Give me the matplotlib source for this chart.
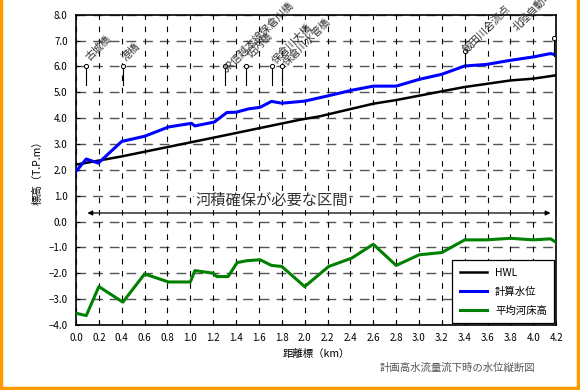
import matplotlib
matplotlib.use("Agg")
import matplotlib.pyplot as plt
from matplotlib.lines import Line2D

plt.rcParams["font.family"] = ["Noto Sans CJK JP", "DejaVu Sans"]

# --- data ---
hwl_x = [0.0, 0.4, 1.23, 1.96, 2.13, 2.6, 2.8, 3.39, 3.8, 4.0, 4.2]
hwl_y = [2.2, 2.52, 3.27, 3.94, 4.07, 4.56, 4.7, 5.2, 5.46, 5.53, 5.66]

wl_x = [0.0, 0.09, 0.195, 0.4, 0.6, 0.81, 1.01, 1.04, 1.21, 1.32, 1.4, 1.51,
        1.61, 1.71, 1.8, 2.0, 2.21, 2.41, 2.6, 2.8, 3.0, 3.2, 3.4, 3.59, 3.8,
        4.0, 4.15, 4.2]
wl_y = [1.94, 2.42, 2.26, 3.1, 3.3, 3.66, 3.8, 3.7, 3.85, 4.22, 4.23, 4.36,
        4.42, 4.65, 4.58, 4.66, 4.87, 5.08, 5.24, 5.24, 5.5, 5.7, 6.02, 6.08,
        6.24, 6.37, 6.5, 6.45]

bed_x = [0.0, 0.09, 0.2, 0.41, 0.6, 0.81, 1.0, 1.04, 1.2, 1.23, 1.33, 1.41,
         1.49, 1.61, 1.71, 1.8, 2.0, 2.21, 2.41, 2.6, 2.8, 3.0, 3.2, 3.4, 3.59,
         3.8, 4.0, 4.15, 4.2]
bed_y = [-3.55, -3.64, -2.52, -3.12, -2.03, -2.34, -2.34, -1.9, -2.0, -2.13,
         -2.13, -1.59, -1.52, -1.48, -1.7, -1.74, -2.52, -1.74, -1.42, -0.88,
         -1.7, -1.29, -1.2, -0.71, -0.71, -0.65, -0.71, -0.67, -0.81]

# landmarks: position, marker top, marker bottom, label, label x, label y
mark_x = [0.09, 0.41, 1.30, 1.49, 1.71, 1.80, 3.40, 4.18]
mark_top = [6.0, 6.0, 6.0, 6.0, 6.0, 6.0, 6.6, 7.1]
mark_bot = [5.3, 5.3, 5.3, 5.3, 5.3, 5.3, 6.02, 6.4]
mark_lbl = ["古城橋", "港橋", "JR信越本線保倉川橋", "佐内橋", "保倉川大橋",
            "保倉川水管橋", "飯田川合流点", "北陸自動車道"]
lbl_x = [0.13, 0.45, 1.33, 1.54, 1.76, 1.86, 3.43, 3.87]
lbl_y = [6.15, 6.15, 5.7, 6.25, 6.05, 5.95, 6.45, 7.3]

fig = plt.figure(figsize=(5.8, 3.9), dpi=100)
ax = fig.add_axes([0.131, 0.167, 0.828, 0.795])

for yv in range(-4, 9):
    ax.axhline(yv, color="#555555", lw=1.0, dashes=(7, 5), zorder=1)
for i in range(22):
    ax.axvline(i * 0.2, color="black", lw=0.8, dashes=(5, 6), zorder=1)

ax.plot(hwl_x, hwl_y, color="black", lw=1.8, label="HWL", zorder=3)
ax.plot(wl_x, wl_y, color="#0000ff", lw=2.2, label="計算水位", zorder=3)
ax.plot(bed_x, bed_y, color="#008000", lw=2.2, label="平均河床高", zorder=3)

for x, t, b, s, lx, ly in zip(mark_x, mark_top, mark_bot, mark_lbl, lbl_x, lbl_y):
    ax.plot([x, x], [b, t], color="black", lw=0.8, zorder=4)
    ax.plot(x, t, "o", ms=3, mfc="white", mec="black", mew=0.7, zorder=5)
    ax.text(lx, ly, s, rotation=45, rotation_mode="anchor", ha="left",
            va="bottom", fontsize=7.5, color="#333333", clip_on=False, zorder=5)

ax.annotate("", xy=(0.1, 0.33), xytext=(4.15, 0.33),
            arrowprops=dict(arrowstyle="<|-|>", color="black", lw=0.9,
                            mutation_scale=7, shrinkA=0, shrinkB=0), zorder=4)
ax.text(1.71, 0.82, "河積確保が必要な区間", ha="center", va="center",
        fontsize=11, color="#333333", zorder=4,
        bbox=dict(facecolor="white", edgecolor="none", pad=0.5))

ax.set_xlim(0, 4.2)
ax.set_ylim(-4, 8)
ax.set_xticks([i * 0.2 for i in range(22)])
ax.set_xticklabels([f"{i * 0.2:.1f}" for i in range(22)], fontsize=7)
ax.set_yticks(range(-4, 9))
ax.set_yticklabels([f"{v:.1f}".replace("-", "\u2212") for v in range(-4, 9)],
                   fontsize=7)
ax.tick_params(direction="in", length=3, width=0.8, pad=6)
for sp in ax.spines.values():
    sp.set_linewidth(1.2)

ax.set_xlabel("距離標（km）", fontsize=7.5, labelpad=4)
ax.set_ylabel("標高（T.P.m）", fontsize=7.5, labelpad=4)

leg = ax.legend(loc="lower right", fontsize=7.5, frameon=True, fancybox=False,
                edgecolor="black", framealpha=1, handlelength=2.6,
                borderpad=0.7, labelspacing=0.85, borderaxespad=0.2)
leg.get_frame().set_linewidth(0.9)

fig.text(0.922, 0.057, "計画高水流量流下時の水位縦断図", ha="right", va="center",
         fontsize=7.5, color="#555555")

# orange frame (left, right, bottom)
for xs, ys in [([0.002, 0.002], [0, 1]), ([0.996, 0.996], [0, 1]),
               ([0, 1], [0.006, 0.006])]:
    fig.add_artist(Line2D(xs, ys, transform=fig.transFigure, color="#ff9900",
                          lw=2.5))

fig.savefig("out.png", dpi=100)
